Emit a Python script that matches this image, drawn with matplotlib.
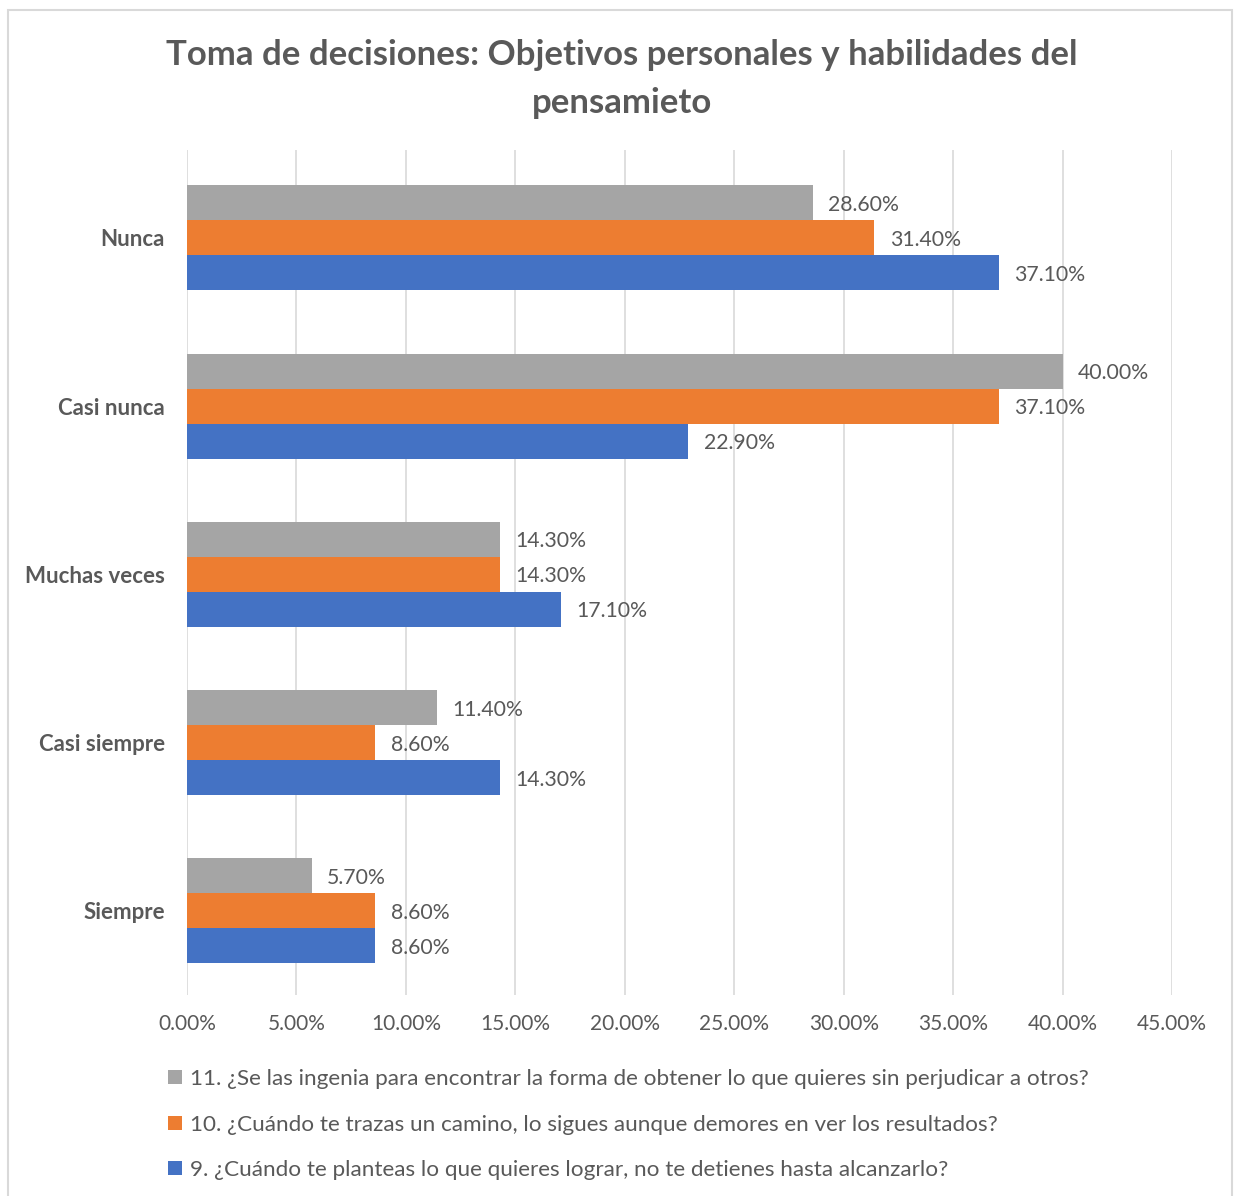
import matplotlib
import matplotlib.pyplot as plt
import numpy as np
from matplotlib.patches import Patch, Rectangle

matplotlib.use("Agg")
plt.rcParams["font.family"] = ["Lato", "DejaVu Sans"]

# Data
categories = ["Nunca", "Casi nunca", "Muchas veces", "Casi siempre", "Siempre"]
series_names = [
    "11. ¿Se las ingenia para encontrar la forma de obtener lo que quieres sin perjudicar a otros?",
    "10. ¿Cuándo te trazas un camino, lo sigues aunque demores en ver los resultados?",
    "9. ¿Cuándo te planteas lo que quieres lograr, no te detienes hasta alcanzarlo?",
]
q11 = [28.6, 40.0, 14.3, 11.4, 5.7]
q10 = [31.4, 37.1, 14.3, 8.6, 8.6]
q9 = [37.1, 22.9, 17.1, 14.3, 8.6]
x_ticks = [0, 5, 10, 15, 20, 25, 30, 35, 40, 45]

colors = ["#A5A5A5", "#ED7D31", "#4472C4"]
text_col = "#595959"

W, H = 1234, 1196
fig = plt.figure(figsize=(W / 100, H / 100), dpi=100)
ax = fig.add_axes([187 / W, 1 - 995 / H, (1172 - 187) / W, (995 - 150) / H])

y = np.arange(len(categories))
bh = 35 / 168.25
for k, (vals, c) in enumerate(zip([q11, q10, q9], colors)):
    pos = y + (k - 1) * bh
    ax.barh(pos, vals, height=bh, color=c, zorder=3)
    for p, v in zip(pos, vals):
        ax.text(v + 0.7, p + 0.012, f"{v:.2f}%", va="center", ha="left",
                fontsize=15.3, color=text_col)

ax.set_xlim(0, 45)
ax.set_ylim(4.5, -0.523)
ax.set_xticks(x_ticks)
ax.set_xticklabels([f"{t:.2f}%" for t in x_ticks], fontsize=15, color=text_col)
ax.set_yticks(y)
ax.set_yticklabels(categories, fontsize=16, color=text_col, fontweight="bold")
ax.tick_params(axis="both", length=0)
ax.tick_params(axis="x", pad=14)
ax.tick_params(axis="y", pad=16)
ax.grid(axis="x", color="#D9D9D9", linewidth=1.2, zorder=0)
for s in ax.spines.values():
    s.set_visible(False)

fig.text(622 / W, 1 - 79 / H,
         "Toma de decisiones: Objetivos personales y habilidades del\npensamieto",
         ha="center", va="center", fontsize=25, fontweight="bold",
         color=text_col, linespacing=1.6)

handles = [Patch(facecolor=c) for c in colors]
fig.legend(handles, series_names, loc="upper left",
           bbox_to_anchor=(148 / W, 1 - 1049 / H), frameon=False,
           fontsize=16.2, labelcolor=text_col, handlelength=0.6,
           handleheight=0.6, handletextpad=0.35, labelspacing=1.13)

fig.patches.append(Rectangle((8 / W, -0.01), (1232 - 8) / W, 1 - 10 / H + 0.01,
                             transform=fig.transFigure, fill=False,
                             edgecolor="#D9D9D9", linewidth=1.5))

fig.savefig("out.png", dpi=100, facecolor="white")
plt.close(fig)
